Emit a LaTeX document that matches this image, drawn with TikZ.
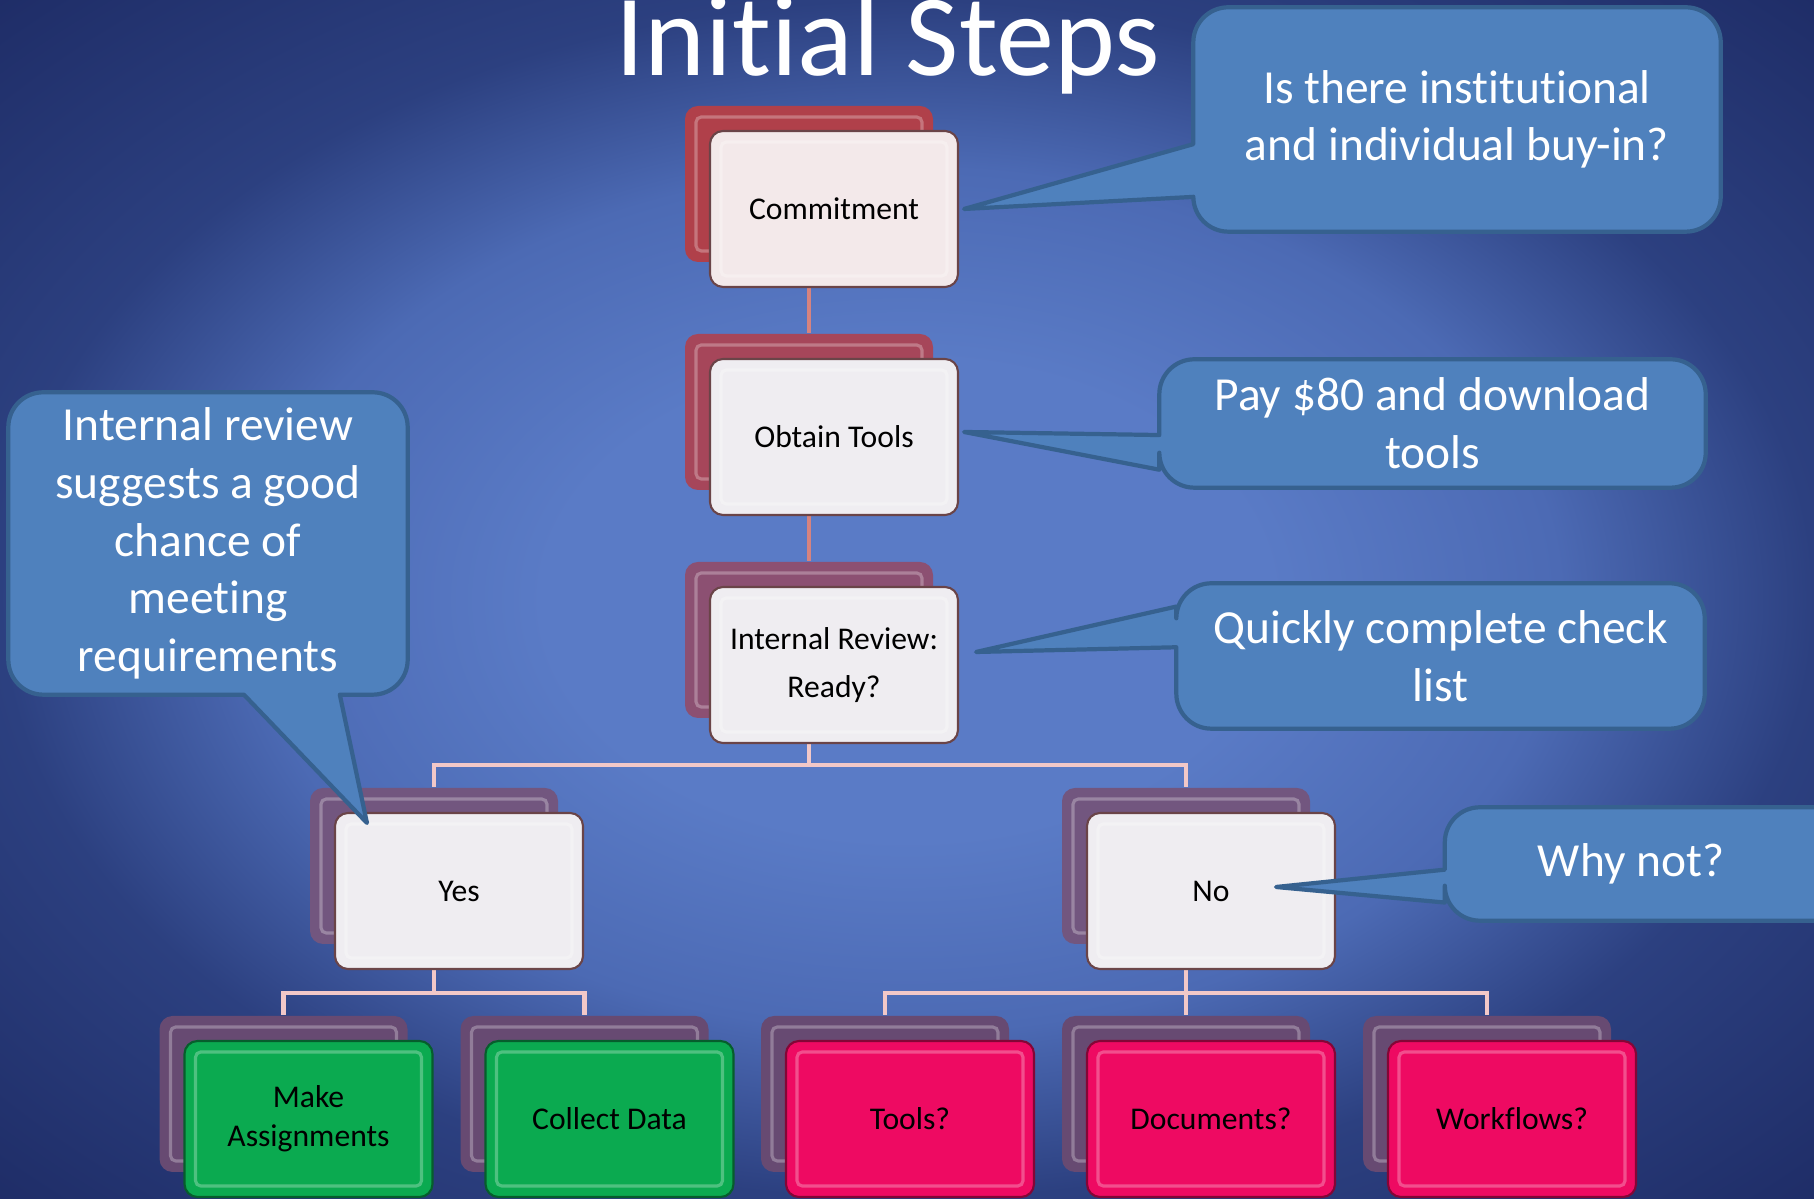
\documentclass[tikz,border=0pt]{standalone}
\usepackage{fontspec}
\setmainfont{Carlito}[Ligatures=NoCommon]
\usepackage{tikz}
\usetikzlibrary{positioning,calc,backgrounds}

\pgfdeclarelayer{foreground}
\pgfsetlayers{background,main,foreground}

\definecolor{slidein}{HTML}{5A7BC6}
\definecolor{slidemid}{HTML}{4C6AB4}
\definecolor{slideedge}{HTML}{2C4080}
\definecolor{slidecorner}{HTML}{1E2C66}
\definecolor{bubblefill}{HTML}{4F81BD}
\definecolor{bubbleline}{HTML}{36618F}
\definecolor{frontfill}{HTML}{EFEDF1}
\definecolor{frontpink}{HTML}{F3E9EA}
\definecolor{frontline}{HTML}{6A4448}
\definecolor{backred}{HTML}{B0404A}
\definecolor{backrose}{HTML}{A6465A}
\definecolor{backplum}{HTML}{8C5072}
\definecolor{backviolet}{HTML}{72567F}
\definecolor{backdark}{HTML}{674A72}
\definecolor{goodgreen}{HTML}{0BAA50}
\definecolor{badpink}{HTML}{EE0A62}
\definecolor{linkupper}{HTML}{D6837F}
\definecolor{linklower}{HTML}{F2C8C8}

\pgfdeclareradialshading{slide}{\pgfpoint{0bp}{0bp}}{color(0bp)=(slidein); color(10bp)=(slidein); color(18bp)=(slidemid); color(25bp)=(slideedge); color(36bp)=(slidecorner); color(50bp)=(slidecorner)}

\begin{document}
\begin{tikzpicture}[%
    node distance=2.28cm,
    on grid,
    bevel/.style={path picture={
        \draw[white, opacity=0.28, line width=0.9pt, rounded corners=1.5pt]
        ([shift={(0.11cm,-0.11cm)}]path picture bounding box.north west) rectangle
        ([shift={(-0.11cm,0.11cm)}]path picture bounding box.south east);}},
    backbox/.style={rectangle, rounded corners=0.13cm, minimum width=2.48cm,
        minimum height=1.56cm, inner sep=0pt, bevel},
    frontbox/.style={backbox, fill=frontfill, draw=frontline, line width=0.6pt,
        align=center, font=\fontsize{9}{11}\selectfont},
    goodbox/.style={frontbox, fill=goodgreen, draw=goodgreen!55!black},
    badbox/.style={frontbox, fill=badpink, draw=badpink!55!black},
    link/.style={draw=linklower, line width=1.4pt},
    bubble/.style={fill=bubblefill, draw=bubbleline, line width=1.2pt, line join=round},
    bubbletext/.style={text=white, align=center, inner sep=0pt,
        font=\fontsize{13.5}{16.4}\selectfont},
    title/.style={text=white, inner sep=0pt, font=\fontsize{33}{40}\selectfont}
    ]

    \useasboundingbox (0,0) rectangle (18.14,11.99);
    \clip (0,0) rectangle (18.14,11.99);

    \node[title, anchor=base] (heading) at (8.88,11.23) {Initial Steps};

    \node[backbox, fill=backred] (commitB) at (8.09,10.15) {};
    \node[frontbox, fill=frontpink] (commit) [below right=0.25cm and 0.25cm of commitB] {Commitment};
    \node[backbox, fill=backrose] (obtainB) [below=of commitB] {};
    \node[frontbox] (obtain) [below right=0.25cm and 0.25cm of obtainB] {Obtain Tools};
    \node[backbox, fill=backplum] (reviewB) [below=of obtainB] {};
    \node[frontbox] (review) [below right=0.25cm and 0.25cm of reviewB] {Internal Review:\\[2.8pt]Ready?};

    \node[backbox, fill=backviolet] (yesB) [below left=2.26cm and 3.75cm of reviewB] {};
    \node[frontbox] (yes) [below right=0.25cm and 0.25cm of yesB] {Yes};
    \node[backbox, fill=backviolet] (noB) [below right=2.26cm and 3.77cm of reviewB] {};
    \node[frontbox] (no) [below right=0.25cm and 0.25cm of noB] {No};

    \node[backbox, fill=backdark] (makeB) [below left=2.28cm and 1.505cm of yesB] {};
    \node[goodbox] (make) [below right=0.25cm and 0.25cm of makeB] {Make\\Assignments};
    \node[backbox, fill=backdark] (collectB) [right=3.01cm of makeB] {};
    \node[goodbox] (collect) [below right=0.25cm and 0.25cm of collectB] {Collect Data};

    \node[backbox, fill=backdark] (docsB) [below=of noB] {};
    \node[backbox, fill=backdark] (toolsB) [left=3.01cm of docsB] {};
    \node[badbox] (tools) [below right=0.25cm and 0.25cm of toolsB] {Tools?};
    \node[badbox] (docs) [below right=0.25cm and 0.25cm of docsB] {Documents?};
    \node[backbox, fill=backdark] (flowsB) [right=3.01cm of docsB] {};
    \node[badbox] (flows) [below right=0.25cm and 0.25cm of flowsB] {Workflows?};

    \begin{pgfonlayer}{background}
    \shade[shading=slide] (0,0) rectangle (18.14,11.99);
    \draw[link, draw=linkupper] (commitB) -- (obtainB);
    \draw[link, draw=linkupper] (obtainB) -- (reviewB);
    \path (reviewB) ++(0,-1.25) coordinate (forkTop);
    \draw[link] (reviewB) -- (forkTop) -| (yesB);
    \draw[link] (forkTop) -| (noB);
    \path (yesB) ++(0,-1.27) coordinate (forkYes);
    \draw[link] (yesB) -- (forkYes) -| (makeB);
    \draw[link] (forkYes) -| (collectB);
    \path (noB) ++(0,-1.27) coordinate (forkNo);
    \draw[link] (noB) -- (forkNo) -| (toolsB);
    \draw[link] (forkNo) -- (docsB);
    \draw[link] (forkNo) -| (flowsB);
    \end{pgfonlayer}

    \begin{pgfonlayer}{foreground}
    \node[bubbletext, minimum width=5.26cm, minimum height=2.23cm] (buyin) at (14.57,10.795)
        {Is there institutional\\and individual buy-in?};
    \node[bubbletext, minimum width=5.45cm, minimum height=1.27cm] (pay) at (14.325,7.755)
        {Pay \$80 and download\\tools};
    \node[bubbletext, minimum width=5.27cm, minimum height=1.44cm] (check) at (14.405,5.43)
        {Quickly complete check\\list};
    \node[bubbletext, minimum width=3.98cm, minimum height=3.01cm] (good) at (2.08,6.555)
        {Internal review\\suggests a good\\chance of\\meeting\\requirements};
    \node[bubbletext, minimum width=3.71cm, minimum height=1.12cm] (why) at (16.31,3.35)
        {Why not?};
    \end{pgfonlayer}

    \coordinate (tipBuyin) at ([xshift=0.05cm]commit.east);
    \coordinate (tipPay) at ([shift={(0.05cm,0.05cm)}]obtain.east);
    \coordinate (tipCheck) at ([shift={(0.17cm,0.13cm)}]review.east);
    \coordinate (tipGood) at ([shift={(0.33cm,-0.11cm)}]yes.north west);
    \coordinate (tipWhy) at ([shift={(0.65cm,0.04cm)}]no.center);

    \draw[bubble] (tipBuyin) -- ($(buyin.north west)!0.845!(buyin.south west)$)
        [rounded corners=0.35cm] -- (buyin.south west) -- (buyin.south east)
        -- (buyin.north east) -- (buyin.north west) [sharp corners]
        -- ($(buyin.north west)!0.61!(buyin.south west)$) -- cycle;
    \draw[bubble] (tipPay) -- ($(pay.north west)!0.86!(pay.south west)$)
        [rounded corners=0.35cm] -- (pay.south west) -- (pay.south east)
        -- (pay.north east) -- (pay.north west) [sharp corners]
        -- ($(pay.north west)!0.59!(pay.south west)$) -- cycle;
    \draw[bubble] (tipCheck) -- ($(check.north west)!0.44!(check.south west)$)
        [rounded corners=0.35cm] -- (check.south west) -- (check.south east)
        -- (check.north east) -- (check.north west) [sharp corners]
        -- ($(check.north west)!0.16!(check.south west)$) -- cycle;
    \draw[bubble] (tipGood) -- ($(good.south west)!0.83!(good.south east)$)
        [rounded corners=0.35cm] -- (good.south east) -- (good.north east)
        -- (good.north west) -- (good.south west) [sharp corners]
        -- ($(good.south west)!0.59!(good.south east)$) -- cycle;
    \draw[bubble] (tipWhy) -- ($(why.north west)!0.84!(why.south west)$)
        [rounded corners=0.35cm] -- (why.south west) -- ([xshift=0.4cm]why.south east)
        -- ([xshift=0.4cm]why.north east) -- (why.north west) [sharp corners]
        -- ($(why.north west)!0.55!(why.south west)$) -- cycle;

\end{tikzpicture}
\end{document}
